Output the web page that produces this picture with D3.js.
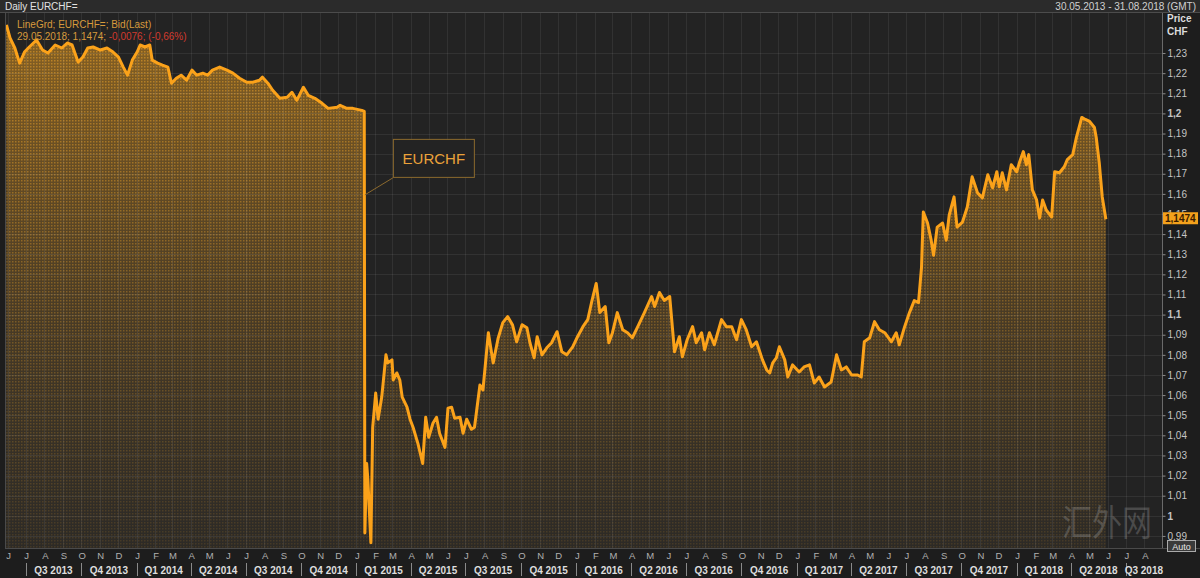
<!DOCTYPE html>
<html>
<head>
<meta charset="utf-8">
<title>Daily EURCHF=</title>
<script src="https://cdn.jsdelivr.net/npm/d3@7"></script>
<style>
  body { margin: 0; background: #1d1d1d; }
  svg { display: block; font-family: "Liberation Sans", Arial, sans-serif; }
</style>
</head>
<body>
<script>
// EURCHF daily bid
var dates = [
  "2013-05-30","2013-06-05","2013-06-13","2013-06-21","2013-06-29","2013-07-07","2013-07-19","2013-07-29",
  "2013-08-07","2013-08-19","2013-08-30","2013-09-08","2013-09-16","2013-09-26","2013-10-04","2013-10-12",
  "2013-10-21","2013-11-02","2013-11-13","2013-11-23","2013-12-02","2013-12-10","2013-12-17","2013-12-25",
  "2014-01-02","2014-01-07","2014-01-15","2014-01-23","2014-01-27","2014-02-05","2014-02-13","2014-02-22",
  "2014-02-28","2014-03-08","2014-03-16","2014-03-25","2014-04-03","2014-04-11","2014-04-21","2014-04-29",
  "2014-05-07","2014-05-19","2014-05-31","2014-06-10","2014-06-21","2014-07-03","2014-07-13","2014-07-24",
  "2014-07-29","2014-08-07","2014-08-15","2014-08-27","2014-09-08","2014-09-16","2014-09-24","2014-10-05",
  "2014-10-13","2014-10-24","2014-11-05","2014-11-15","2014-11-30","2014-12-05","2014-12-16","2014-12-26",
  "2015-01-10","2015-01-14","2015-01-15","2015-01-18","2015-01-20","2015-01-25","2015-01-28","2015-02-02",
  "2015-02-06","2015-02-12","2015-02-19","2015-02-22","2015-03-01","2015-03-03","2015-03-09","2015-03-14",
  "2015-03-18","2015-03-26","2015-03-31","2015-04-05","2015-04-13","2015-04-21","2015-04-26","2015-05-01",
  "2015-05-08","2015-05-14","2015-05-19","2015-05-28","2015-06-02","2015-06-08","2015-06-13","2015-06-22",
  "2015-06-27","2015-07-03","2015-07-11","2015-07-16","2015-07-25","2015-07-30","2015-08-08","2015-08-16",
  "2015-08-24","2015-09-01","2015-09-09","2015-09-17","2015-09-24","2015-10-03","2015-10-11","2015-10-16",
  "2015-10-23","2015-10-28","2015-11-05","2015-11-13","2015-11-21","2015-11-30","2015-12-08","2015-12-16",
  "2015-12-26","2016-01-03","2016-01-12","2016-01-20","2016-01-27","2016-02-03","2016-02-09","2016-02-18",
  "2016-02-24","2016-03-01","2016-03-09","2016-03-18","2016-03-26","2016-04-03","2016-04-12","2016-04-23",
  "2016-05-05","2016-05-10","2016-05-18","2016-05-26","2016-06-04","2016-06-12","2016-06-20","2016-06-25",
  "2016-07-03","2016-07-12","2016-07-18","2016-07-27","2016-08-01","2016-08-09","2016-08-17","2016-08-29",
  "2016-09-06","2016-09-15","2016-09-23","2016-10-01","2016-10-09","2016-10-18","2016-10-26","2016-11-05",
  "2016-11-12","2016-11-17","2016-11-22","2016-11-28","2016-12-03","2016-12-12","2016-12-17","2016-12-25",
  "2017-01-05","2017-01-13","2017-01-22","2017-01-30","2017-02-07","2017-02-16","2017-02-27","2017-03-08",
  "2017-03-16","2017-03-24","2017-04-02","2017-04-12","2017-04-18","2017-04-23","2017-05-02","2017-05-10",
  "2017-05-18","2017-05-27","2017-06-07","2017-06-15","2017-06-20","2017-06-29","2017-07-07","2017-07-15",
  "2017-07-22","2017-07-27","2017-07-30","2017-08-06","2017-08-12","2017-08-16","2017-08-22","2017-08-31",
  "2017-09-06","2017-09-11","2017-09-19","2017-09-24","2017-10-03","2017-10-11","2017-10-19","2017-10-28",
  "2017-11-05","2017-11-14","2017-11-22","2017-11-29","2017-12-03","2017-12-08","2017-12-15","2017-12-23",
  "2018-01-01","2018-01-06","2018-01-12","2018-01-17","2018-01-21","2018-01-27","2018-02-03","2018-02-08",
  "2018-02-13","2018-02-19","2018-02-28","2018-03-05","2018-03-13","2018-03-21","2018-03-26","2018-04-04",
  "2018-04-10","2018-04-19","2018-04-25","2018-05-02","2018-05-10","2018-05-13","2018-05-18","2018-05-23",
  "2018-05-29"
];
var values = [
  1.2440,1.2375,1.2325,1.2250,1.2305,1.2330,1.2365,1.2315,
  1.2300,1.2340,1.2325,1.2350,1.2340,1.2255,1.2280,1.2325,
  1.2330,1.2315,1.2325,1.2305,1.2280,1.2230,1.2190,1.2265,
  1.2305,1.2340,1.2330,1.2340,1.2265,1.2250,1.2240,1.2230,
  1.2150,1.2175,1.2190,1.2165,1.2215,1.2190,1.2200,1.2190,
  1.2215,1.2230,1.2215,1.2200,1.2175,1.2155,1.2155,1.2165,
  1.2180,1.2150,1.2115,1.2075,1.2080,1.2105,1.2065,1.2130,
  1.2090,1.2075,1.2050,1.2025,1.2030,1.2040,1.2025,1.2025,
  1.2015,1.2010,0.9915,1.0260,1.0180,0.9866,1.0440,1.0610,
  1.0480,1.0590,1.0800,1.0760,1.0775,1.0675,1.0710,1.0675,
  1.0590,1.0540,1.0480,1.0440,1.0360,1.0260,1.0490,1.0390,
  1.0460,1.0490,1.0410,1.0340,1.0535,1.0540,1.0485,1.0490,
  1.0410,1.0480,1.0430,1.0440,1.0650,1.0625,1.0910,1.0760,
  1.0880,1.0960,1.0990,1.0950,1.0865,1.0950,1.0935,1.0860,
  1.0785,1.0890,1.0800,1.0835,1.0860,1.0915,1.0815,1.0800,
  1.0840,1.0890,1.0940,1.0975,1.1070,1.1155,1.1010,1.1040,
  1.0860,1.0910,1.1010,1.0925,1.0910,1.0885,1.0940,1.1010,
  1.1090,1.1040,1.1110,1.1070,1.1090,1.0815,1.0890,1.0790,
  1.0875,1.0940,1.0860,1.0910,1.0825,1.0910,1.0850,1.0975,
  1.0940,1.0940,1.0875,1.0975,1.0925,1.0840,1.0865,1.0775,
  1.0725,1.0710,1.0760,1.0785,1.0840,1.0775,1.0690,1.0750,
  1.0715,1.0740,1.0750,1.0660,1.0690,1.0640,1.0665,1.0800,
  1.0725,1.0740,1.0700,1.0700,1.0690,1.0865,1.0885,1.0965,
  1.0925,1.0910,1.0865,1.0910,1.0850,1.0940,1.1010,1.1070,
  1.1060,1.1235,1.1510,1.1455,1.1370,1.1295,1.1435,1.1455,
  1.1370,1.1495,1.1585,1.1435,1.1460,1.1535,1.1685,1.1605,
  1.1580,1.1695,1.1630,1.1710,1.1635,1.1705,1.1620,1.1745,
  1.1710,1.1760,1.1810,1.1745,1.1795,1.1620,1.1570,1.1480,
  1.1570,1.1520,1.1485,1.1710,1.1705,1.1735,1.1770,1.1795,
  1.1880,1.1980,1.1970,1.1960,1.1930,1.1880,1.1755,1.1585,
  1.1474
];
var yTicks = [0.99,1,1.01,1.02,1.03,1.04,1.05,1.06,1.07,1.08,1.09,1.1,1.11,1.12,
              1.13,1.14,1.15,1.16,1.17,1.18,1.19,1.2,1.21,1.22,1.23];
var monthLetters = ["J","F","M","A","M","J","J","A","S","O","N","D"];
var quarterLabels = ["Q3 2013","Q4 2013","Q1 2014","Q2 2014","Q3 2014","Q4 2014","Q1 2015",
  "Q2 2015","Q3 2015","Q4 2015","Q1 2016","Q2 2016","Q3 2016","Q4 2016","Q1 2017","Q2 2017",
  "Q3 2017","Q4 2017","Q1 2018","Q2 2018","Q3 2018"];
var lastValue = 1.1474;

var width = 1200, height = 578;
var plot = {left: 5, right: 1162, top: 13, bottom: 548};
var parseDate = d3.timeParse("%Y-%m-%d");
var data = dates.map(function(d, i) { return {date: parseDate(d), value: values[i]}; });
var comma = function(v) { return (+v.toFixed(4)).toString().replace(".", ","); };

var x = d3.scaleTime()
    .domain([parseDate("2013-05-30"), parseDate("2018-08-31")])
    .range([6.4, 1162.5]);
var y = d3.scaleLinear()
    .domain([0.984, 1.2499])
    .range([plot.bottom, plot.top]);

var svg = d3.select("body").append("svg")
    .attr("width", width)
    .attr("height", height);

var defs = svg.append("defs");
var grad = defs.append("linearGradient").attr("id", "fillGrad")
    .attr("gradientUnits", "userSpaceOnUse")
    .attr("x1", 0).attr("x2", 0).attr("y1", plot.top).attr("y2", plot.bottom);
grad.append("stop").attr("offset", "0%").attr("stop-color", "#b07a22").attr("stop-opacity", 0.75);
grad.append("stop").attr("offset", "55%").attr("stop-color", "#7a5a28").attr("stop-opacity", 0.45);
grad.append("stop").attr("offset", "100%").attr("stop-color", "#4a4030").attr("stop-opacity", 0.25);

var dots = defs.append("pattern").attr("id", "dots")
    .attr("patternUnits", "userSpaceOnUse").attr("width", 3).attr("height", 3);
dots.append("rect").attr("width", 1.5).attr("height", 1.5).attr("fill", "#f0a52a");

var maskGrad = defs.append("linearGradient").attr("id", "maskGrad")
    .attr("gradientUnits", "userSpaceOnUse")
    .attr("x1", 0).attr("x2", 0).attr("y1", plot.top).attr("y2", plot.bottom);
maskGrad.append("stop").attr("offset", "0%").attr("stop-color", "#fff").attr("stop-opacity", 0.55);
maskGrad.append("stop").attr("offset", "100%").attr("stop-color", "#fff").attr("stop-opacity", 0.12);
defs.append("mask").attr("id", "dotMask")
  .append("rect").attr("x", 0).attr("y", 0).attr("width", width).attr("height", height)
  .attr("fill", "url(#maskGrad)");

// header
svg.append("rect").attr("x", 0).attr("y", 0).attr("width", width).attr("height", 12).attr("fill", "#2b2b2b");
svg.append("line").attr("x1", 0).attr("x2", width).attr("y1", 12.5).attr("y2", 12.5).attr("stroke", "#4c4c4c");
svg.append("text").attr("x", 5).attr("y", 9.5).attr("font-size", 10).attr("fill", "#e2e2e2").text("Daily EURCHF=");
svg.append("text").attr("x", 1196).attr("y", 9.5).attr("font-size", 10).attr("fill", "#d0d0d0")
    .attr("text-anchor", "end").text("30.05.2013 - 31.08.2018 (GMT)");

// plot background
svg.append("rect").attr("x", plot.left).attr("y", plot.top)
    .attr("width", plot.right - plot.left).attr("height", plot.bottom - plot.top)
    .attr("fill", "#232323");

// area + texture
var area = d3.area().x(function(d) { return x(d.date); })
    .y0(plot.bottom).y1(function(d) { return y(d.value); });
svg.append("path").datum(data).attr("d", area).attr("fill", "url(#fillGrad)");
svg.append("path").datum(data).attr("d", area).attr("fill", "url(#dots)").attr("mask", "url(#dotMask)");

// grid
var months = d3.timeMonth.range(parseDate("2013-06-01"), parseDate("2018-09-01"));
svg.append("g").selectAll("line").data(months).enter().append("line")
    .attr("x1", function(d) { return Math.round(x(d)) + 0.5; })
    .attr("x2", function(d) { return Math.round(x(d)) + 0.5; })
    .attr("y1", plot.top).attr("y2", plot.bottom)
    .attr("stroke", "#ffffff").attr("stroke-opacity", 0.07);
svg.append("g").selectAll("line").data(yTicks).enter().append("line")
    .attr("x1", plot.left).attr("x2", plot.right)
    .attr("y1", function(d) { return Math.round(y(d)) + 0.5; })
    .attr("y2", function(d) { return Math.round(y(d)) + 0.5; })
    .attr("stroke", "#ffffff").attr("stroke-opacity", 0.07);

// watermark, kept inside the plot so it stays off the axis labels
svg.append("text").attr("transform", "translate(1062,536) scale(1,1.2)")
    .attr("font-family", "Noto Sans CJK SC").attr("font-size", 30)
    .attr("fill", "#bfbfbf").attr("fill-opacity", 0.25).text("汇外网");

// price line
var line = d3.line().x(function(d) { return x(d.date); }).y(function(d) { return y(d.value); });
svg.append("path").datum(data).attr("d", line)
    .attr("fill", "none").attr("stroke", "#fba21a").attr("stroke-width", 3)
    .attr("stroke-linejoin", "round");

// frame
svg.append("line").attr("x1", plot.left + 0.5).attr("x2", plot.left + 0.5)
    .attr("y1", plot.top).attr("y2", plot.bottom).attr("stroke", "#4a4a4a");
svg.append("line").attr("x1", plot.left).attr("x2", width)
    .attr("y1", plot.bottom + 0.5).attr("y2", plot.bottom + 0.5).attr("stroke", "#4a4a4a");

// legend
svg.append("text").attr("x", 17).attr("y", 28).attr("font-size", 10).attr("fill", "#d79a3c")
    .text("LineGrd; EURCHF=; Bid(Last)");
var leg2 = svg.append("text").attr("x", 17).attr("y", 40).attr("font-size", 10);
leg2.append("tspan").attr("fill", "#d79a3c").text("29.05.2018; " + comma(lastValue) + "; ");
leg2.append("tspan").attr("fill", "#d23a2e").text("-0,0076; (-0,66%)");

// annotation
var ax = x(parseDate("2015-01-15")), ay = y(1.1595);
svg.append("line").attr("x1", ax).attr("y1", ay).attr("x2", ax + 28).attr("y2", ay - 17)
    .attr("stroke", "#8c6a2e");
svg.append("rect").attr("x", ax + 28.5).attr("y", ay - 55.5).attr("width", 81).attr("height", 38)
    .attr("fill", "#232323").attr("stroke", "#8c6a2e");
svg.append("text").attr("x", ax + 69).attr("y", ay - 31).attr("text-anchor", "middle")
    .attr("font-size", 15).attr("fill", "#eaa23a").text("EURCHF");

// right axis
var yAxis = d3.axisRight(y).tickValues(yTicks).tickSize(3).tickPadding(2).tickFormat(comma);
var ag = svg.append("g").attr("transform", "translate(" + (plot.right + 0.5) + ",0)").call(yAxis);
ag.select(".domain").attr("stroke", "#6a6a6a").attr("d", "M0," + plot.top + "V" + plot.bottom);
ag.selectAll(".tick line").attr("stroke", "#8a8a8a");
ag.selectAll(".tick text").attr("fill", "#c4c4c4").attr("font-size", 10)
    .attr("font-family", "Liberation Sans, Arial, sans-serif")
    .attr("font-weight", function(d) { return Math.abs(d * 10 - Math.round(d * 10)) < 1e-6 ? "bold" : "normal"; });
svg.append("text").attr("x", 1167).attr("y", 22).attr("font-size", 10).attr("font-weight", "bold")
    .attr("fill", "#dcdcdc").text("Price");
svg.append("text").attr("x", 1167).attr("y", 35).attr("font-size", 10).attr("font-weight", "bold")
    .attr("fill", "#dcdcdc").text("CHF");

// last value tag
var ly = y(lastValue);
svg.append("rect").attr("x", 1163).attr("y", ly - 7).attr("width", 35).attr("height", 12).attr("fill", "#f4a11c");
svg.append("text").attr("x", 1165).attr("y", ly + 3).attr("font-size", 10).attr("font-weight", "bold")
    .attr("fill", "#3a1c00").text(comma(lastValue));

// auto button
svg.append("rect").attr("x", 1167.5).attr("y", 540.5).attr("width", 28).attr("height", 11)
    .attr("fill", "#3a3a3a").attr("stroke", "#aaaaaa");
svg.append("text").attr("x", 1181.5).attr("y", 549.5).attr("text-anchor", "middle").attr("font-size", 9)
    .attr("fill", "#e6e6e6").text("Auto");

// bottom axis: months
svg.append("g").selectAll("text").data(months).enter().append("text")
    .attr("x", function(d) { return x(d) + 1; })
    .attr("y", 559).attr("text-anchor", "middle").attr("font-size", 9.5).attr("fill", "#b0b0b0")
    .text(function(d) { return monthLetters[d.getMonth()]; });

// quarters
var quarters = d3.timeMonth.range(parseDate("2013-07-01"), parseDate("2018-08-01"), 3);
var qg = svg.append("g").selectAll("g").data(quarters).enter().append("g");
qg.append("line")
    .attr("x1", function(d) { return Math.round(x(d)) + 0.5; })
    .attr("x2", function(d) { return Math.round(x(d)) + 0.5; })
    .attr("y1", 563).attr("y2", 576).attr("stroke", "#8a8a8a");
qg.append("text")
    .attr("x", function(d) {
      var end = Math.min(x(d3.timeMonth.offset(d, 3)), plot.right);
      return (x(d) + end) / 2;
    })
    .attr("y", 574).attr("text-anchor", "middle").attr("font-size", 10).attr("font-weight", "bold")
    .attr("fill", "#dedede")
    .text(function(d, i) { return quarterLabels[i]; });
</script>
</body>
</html>
